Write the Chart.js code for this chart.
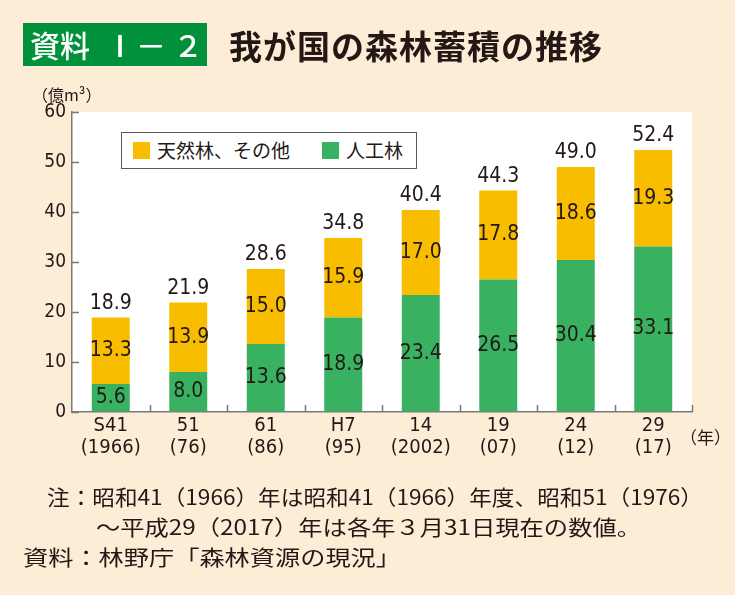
<!DOCTYPE html>
<html>
<head>
<meta charset="utf-8">
<script src="https://cdn.jsdelivr.net/npm/chart.js@4"></script>
<style>
  html, body { margin: 0; padding: 0; }
  body { width: 735px; height: 595px; background: #fdedd6; position: relative; overflow: hidden;
         font-family: "Noto Sans CJK JP", "Noto Sans", sans-serif; color: #231815; }
  #chartBox { position: absolute; left: 0; top: 0; width: 735px; height: 595px; }
  .abs { position: absolute; white-space: nowrap; }
  #badge { left: 23px; top: 23px; width: 184px; height: 43px; background: #00913a; }
  #badge span { position: absolute; color: #fff; font-size: 30px; line-height: 43px; font-weight: 500; }
  #title { left: 229px; top: 22px; font-size: 33px; line-height: 46px; font-weight: 700; letter-spacing: 1px; color: #231815; }
  #unit { left: 32px; top: 84px; font-size: 16px; line-height: 20px; }
  #yearUnit { left: 680px; top: 427px; font-size: 17px; line-height: 20px; }
  #legend { left: 121px; top: 132px; width: 294px; height: 35px; border: 1px solid #5a5a5a; background: #fff; }
  .sw { position: absolute; top: 9px; width: 17px; height: 17px; }
  .lt { position: absolute; top: 5px; font-size: 19px; line-height: 24px; color: #231815; }
  .note { font-size: 21px; line-height: 26px; transform-origin: 0 0; }
</style>
</head>
<body>
<div id="chartBox"><canvas id="forestChart" width="735" height="595"></canvas></div>

<div id="badge" class="abs">
  <span style="left:7px;">資料</span>
  <span style="left:82px;">Ⅰ</span>
  <span style="left:113px;">－</span>
  <span style="left:150px;">２</span>
</div>
<div id="title" class="abs">我が国の森林蓄積の推移</div>
<div id="unit" class="abs">（億m³）</div>
<div id="yearUnit" class="abs">（年）</div>

<div id="legend" class="abs">
  <div class="sw" style="left:11px; background:#f9bd00;"></div>
  <div class="lt" style="left:35px;">天然林、その他</div>
  <div class="sw" style="left:200px; background:#38b261;"></div>
  <div class="lt" style="left:224px;">人工林</div>
</div>

<div class="abs note" data-w="656" style="left:47px; top:483px;">注：昭和41（1966）年は昭和41（1966）年度、昭和51（1976）</div>
<div class="abs note" data-w="545" style="left:96px; top:513px;">～平成29（2017）年は各年３月31日現在の数値。</div>
<div class="abs note" data-w="378" style="left:23px; top:543px;">資料：林野庁「森林資源の現況」</div>

<script>
var years = [["S41", "(1966)"], ["51", "(76)"], ["61", "(86)"], ["H7", "(95)"],
             ["14", "(2002)"], ["19", "(07)"], ["24", "(12)"], ["29", "(17)"]];
var planted = [5.6, 8.0, 13.6, 18.9, 23.4, 26.5, 30.4, 33.1];
var natural = [13.3, 13.9, 15.0, 15.9, 17.0, 17.8, 18.6, 19.3];
var totals = [18.9, 21.9, 28.6, 34.8, 40.4, 44.3, 49.0, 52.4];
var yTicks = [0, 10, 20, 30, 40, 50, 60];

var numFont = '"Liberation Sans Narrow", "DejaVu Sans Condensed", "Roboto", sans-serif';
var textColor = "#231815";
var axisColor = "#7a7a7a";

// squeeze the footer lines to the widths in the source
document.querySelectorAll(".note").forEach(function (el) {
    var w = el.getBoundingClientRect().width;
    var target = parseFloat(el.getAttribute("data-w"));
    el.style.transform = "scaleX(" + (target / w) + ")";
});

var plotBg = {
    id: "plotBg",
    beforeDraw: function (chart) {
        var a = chart.chartArea, c = chart.ctx;
        c.save();
        c.fillStyle = "#ffffff";
        c.fillRect(a.left, a.top, a.right - a.left, a.bottom - a.top);
        c.restore();
    }
};

var innerTicks = {
    id: "innerTicks",
    afterDraw: function (chart) {
        var c = chart.ctx, a = chart.chartArea;
        var ys = chart.scales.y;
        c.save();
        c.strokeStyle = axisColor;
        c.lineWidth = 1.5;
        c.beginPath();
        yTicks.forEach(function (v) {
            var y = Math.round(ys.getPixelForValue(v)) + 0.5;
            c.moveTo(a.left, y);
            c.lineTo(a.left + 7, y);
        });
        var step = (a.right - a.left) / years.length;
        for (var i = 1; i <= years.length; i++) {
            var x = Math.round(a.left + step * i) + 0.5;
            c.moveTo(x, a.bottom);
            c.lineTo(x, a.bottom - 7);
        }
        c.stroke();
        c.restore();
    }
};

var barLabels = {
    id: "barLabels",
    afterDatasetsDraw: function (chart) {
        var c = chart.ctx;
        c.save();
        c.font = "21px " + numFont;
        c.fillStyle = textColor;
        c.textAlign = "center";
        c.textBaseline = "middle";
        chart.data.datasets.forEach(function (ds, di) {
            chart.getDatasetMeta(di).data.forEach(function (bar, i) {
                var mid = (bar.y + bar.base) / 2;
                c.fillText(ds.data[i].toFixed(1), bar.x, mid);
            });
        });
        var top = chart.getDatasetMeta(1).data;
        c.textBaseline = "alphabetic";
        top.forEach(function (bar, i) {
            c.fillText(totals[i].toFixed(1), bar.x, bar.y - 9);
        });
        c.restore();
    }
};

var ctx = document.getElementById("forestChart").getContext("2d");

var myChart = new Chart(ctx, {
    type: "bar",
    data: {
        labels: years,
        datasets: [
            {
                label: "人工林",
                data: planted,
                backgroundColor: "#38b261",
                categoryPercentage: 1.0,
                barPercentage: 0.49,
            },
            {
                label: "天然林、その他",
                data: natural,
                backgroundColor: "#f9bd00",
                categoryPercentage: 1.0,
                barPercentage: 0.49,
            },
        ],
    },
    options: {
        responsive: false,
        animation: false,
        layout: {
            padding: { left: 0, top: 112, right: 43, bottom: 123 },
        },
        scales: {
            x: {
                stacked: true,
                grid: { drawOnChartArea: false, drawTicks: false },
                border: { color: axisColor, width: 1.5 },
                ticks: {
                    color: textColor,
                    font: { family: numFont, size: 20, lineHeight: 1.1 },
                    padding: 3,
                    maxRotation: 0,
                    autoSkip: false,
                },
                afterFit: function (scale) { scale.height = 60; },
            },
            y: {
                stacked: true,
                min: 0,
                max: 60,
                grid: { drawOnChartArea: false, drawTicks: false },
                border: { color: axisColor, width: 1.5 },
                ticks: {
                    stepSize: 10,
                    color: textColor,
                    font: { family: numFont, size: 19 },
                    padding: 6,
                },
                afterFit: function (scale) { scale.width = 72; },
            },
        },
        plugins: {
            legend: { display: false },
            tooltip: { enabled: false },
        },
    },
    plugins: [plotBg, innerTicks, barLabels],
});
</script>
</body>
</html>
